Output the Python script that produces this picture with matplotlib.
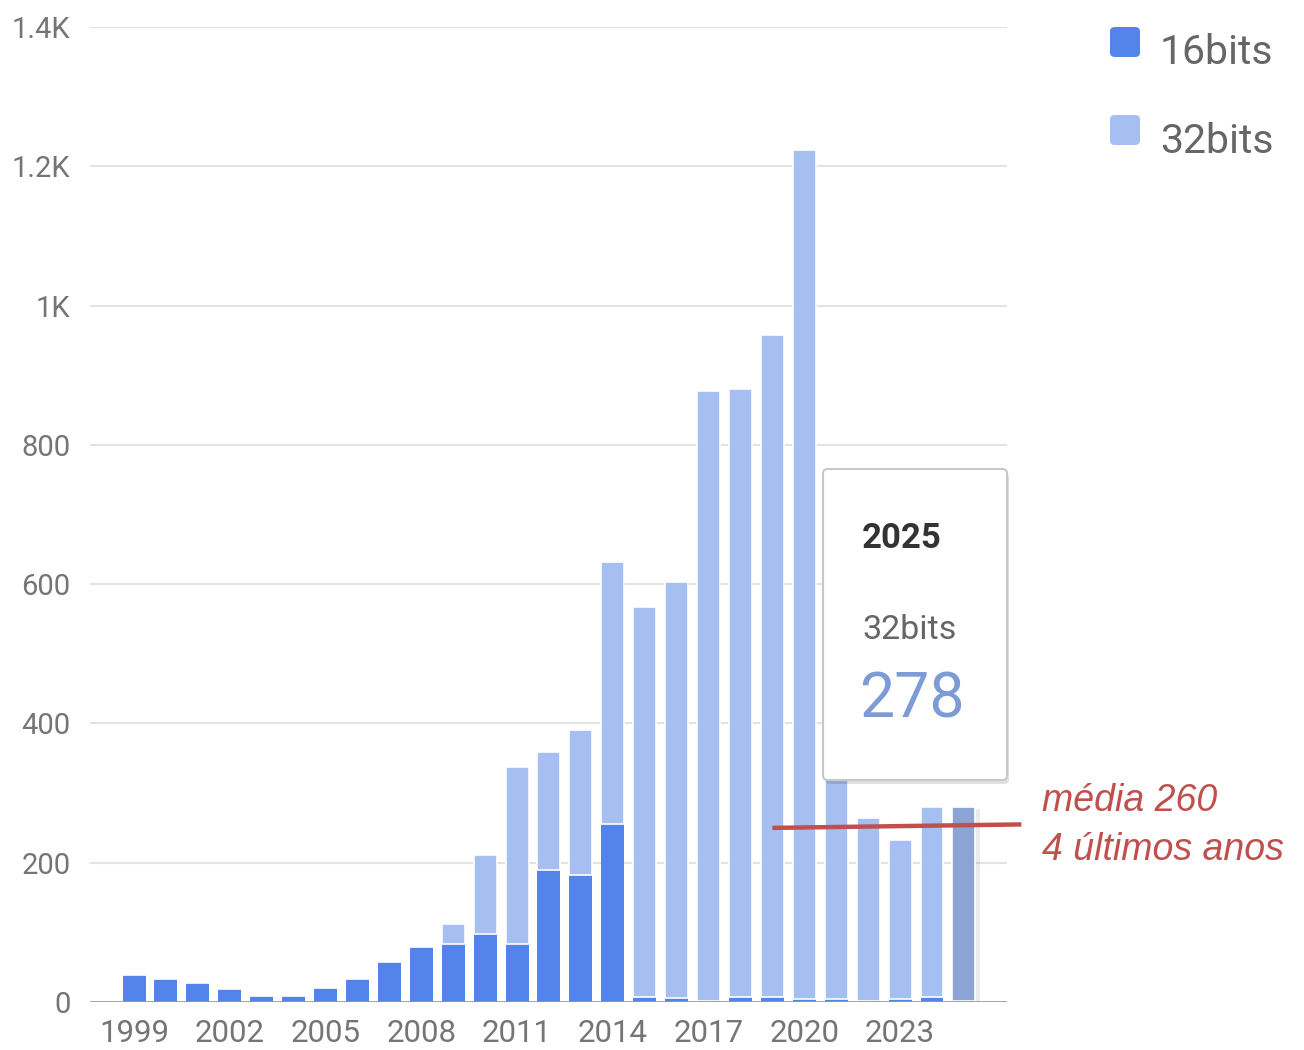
import matplotlib
matplotlib.use("Agg")
import matplotlib.pyplot as plt
from matplotlib.patches import FancyBboxPatch
import numpy as np

plt.rcParams['font.family'] = ['Roboto', 'DejaVu Sans']

years = list(range(1999, 2026))
bits16 = [39, 33, 28, 18, 9, 9, 20, 33, 58, 79, 83, 98, 84, 190, 183, 255,
          7, 6, 1, 7, 7, 5, 4, 1, 5, 7, 2]
total = [39, 33, 28, 18, 9, 9, 20, 33, 58, 79, 112, 211, 337, 359, 391, 632,
         567, 603, 877, 880, 958, 1223, 520, 264, 233, 280, 280]
bits32 = [t - b for t, b in zip(total, bits16)]
series_names = ["16bits", "32bits"]
yticks = [0, 200, 400, 600, 800, 1000, 1200, 1400]
ytick_labels = ["0", "200", "400", "600", "800", "1K", "1.2K", "1.4K"]
xtick_years = list(range(1999, 2024, 3))
tooltip_year = "2025"
tooltip_series = "32bits"
tooltip_value = "278"
avg_line_x = [2019, 2026.8]
avg_line_y = [250, 255]
avg_text = ["média 260", "4 últimos anos"]

c16 = "#5384ea"
c32 = "#a5bff3"
c16_hl = "#4e6fb8"
c32_hl = "#8ba4d4"

W, H = 1304, 1050
fig = plt.figure(figsize=(W / 100, H / 100), dpi=100)
ax = fig.add_axes([90 / W, 1 - 1002 / H, (1007 - 90) / W, (1002 - 27) / H])

x = np.array(years, dtype=float)
colors16 = [c16] * (len(years) - 1) + [c16_hl]
colors32 = [c32] * (len(years) - 1) + [c32_hl]
bw = 0.72
# subtle shadow for highlighted bar
ax.bar(x[-1] + 0.08, total[-1], width=bw + 0.12, bottom=-3, color="#000000",
       alpha=0.08, zorder=2, linewidth=0)
ax.bar(x, bits16, width=bw, color=colors16, zorder=3, linewidth=0)
ax.bar(x, bits32, width=bw, bottom=bits16, color=colors32, zorder=3,
       edgecolor="white", linewidth=1.2)

ax.set_xlim(1997.62, 2026.35)
ax.set_ylim(0, 1400)
ax.set_yticks(yticks)
ax.set_yticklabels(ytick_labels)
ax.set_xticks(xtick_years)
ax.set_xticklabels([str(y) for y in xtick_years])
ax.tick_params(axis='both', length=0, colors="#757575")
ax.tick_params(axis='y', pad=14, labelsize=21)
ax.tick_params(axis='x', pad=12, labelsize=22.5)
for s in ax.spines.values():
    s.set_visible(False)
for yv in yticks[1:]:
    ax.axhline(yv, color="#e3e3e3", linewidth=1.5, zorder=1)
ax.axhline(0, color="#9a9a9a", linewidth=2, zorder=4)

# average line
ax.plot(avg_line_x, avg_line_y, color="#c0504d", linewidth=3.2,
        solid_capstyle="butt", zorder=6, clip_on=False)
for i, t in enumerate(avg_text):
    fig.text(1042 / W, 1 - (801 + 49 * i) / H, t, fontsize=27, style="italic",
             color="#c0504d", family=["Liberation Sans", "DejaVu Sans"],
             va="center", ha="left")

# tooltip
tx0, ty0, tx1, ty1 = 823, 469, 1007, 780
shadow = FancyBboxPatch(((tx0 + 2) / W, 1 - (ty1 + 4) / H),
                        (tx1 - tx0) / W, (ty1 - ty0) / H,
                        boxstyle="round,pad=0,rounding_size=0.004",
                        transform=fig.transFigure, facecolor="#000000",
                        alpha=0.12, edgecolor="none", zorder=9)
fig.add_artist(shadow)
box = FancyBboxPatch((tx0 / W, 1 - ty1 / H), (tx1 - tx0) / W, (ty1 - ty0) / H,
                     boxstyle="round,pad=0,rounding_size=0.004",
                     transform=fig.transFigure, facecolor="white",
                     edgecolor="#c8c8c8", linewidth=1.5, zorder=10)
fig.add_artist(box)
fig.text(862 / W, 1 - 538 / H, tooltip_year, fontsize=25, fontweight="bold",
         color="#333333", va="center", ha="left", zorder=11)
fig.text(862 / W, 1 - 630 / H, tooltip_series, fontsize=24.5,
         color="#666666", va="center", ha="left", zorder=11)
fig.text(859 / W, 1 - 700 / H, tooltip_value, fontsize=45,
         color="#7d9bd4", va="center", ha="left", zorder=11)

# legend
for i, (name, col) in enumerate(zip(series_names, [c16, c32])):
    yc = 42 + i * 88
    sq = FancyBboxPatch((1110 / W, 1 - (yc + 15) / H), 30 / W, 30 / H,
                        boxstyle="round,pad=0,rounding_size=0.004",
                        transform=fig.transFigure, facecolor=col,
                        edgecolor="none")
    fig.add_artist(sq)
    fig.text(1160 / W, 1 - (yc + 11) / H, name, fontsize=29.5, color="#666666",
             va="center", ha="left")

fig.savefig("out.png", dpi=100, facecolor="white")
